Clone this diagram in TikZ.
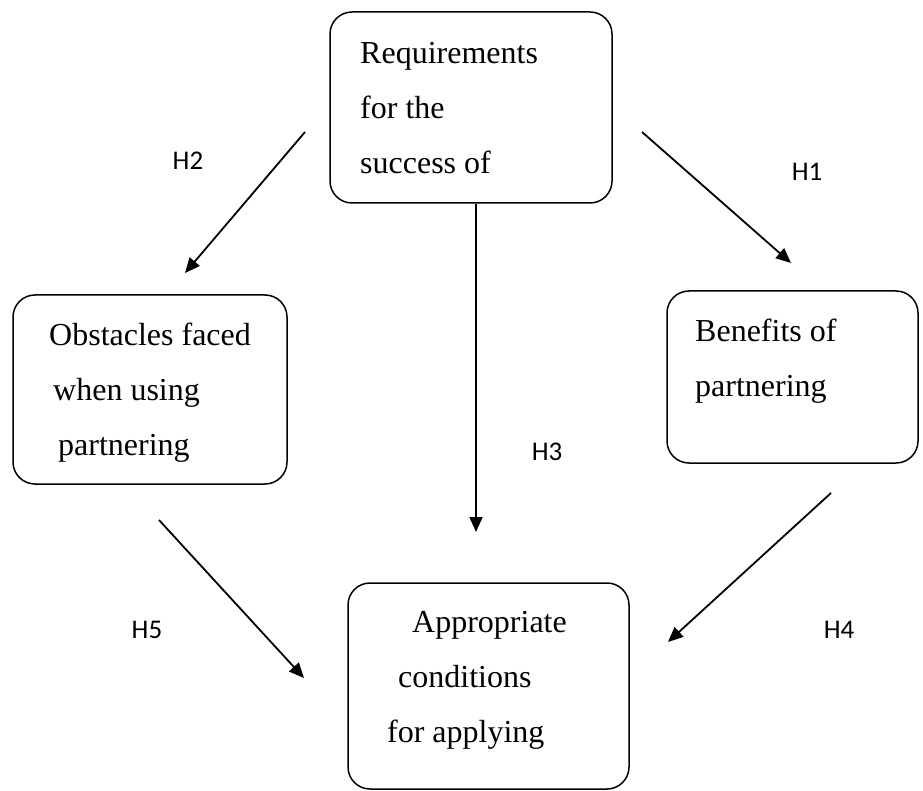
\documentclass[tikz,border=0pt]{standalone}
\usepackage{fontspec}
\setmainfont{Liberation Serif}
\newfontfamily\hfont{Carlito}
\usepackage{tikz}
\usetikzlibrary{arrows.meta,positioning,calc}

\begin{document}
\begin{tikzpicture}[x=1pt, y=-1pt,
  box/.style={draw, line width=1.5pt, rounded corners=22pt, inner sep=0pt},
  boxtext/.style={anchor=north west, inner sep=0pt, align=left, font=\fontsize{32}{55}\selectfont},
  hyp/.style={font=\hfont\fontsize{27}{30}\selectfont},
  link/.style={line width=1.8pt, -{Triangle[length=15pt,width=13pt]}}]
  \useasboundingbox (0,0) rectangle (923,791);
  % boxes
  \node[box, minimum width=282pt, minimum height=191pt] (req) at (471,107.5) {};
  \node[box, minimum width=274pt, minimum height=189pt] (obs) at (150,389.5) {};
  \node[box, minimum width=251pt, minimum height=172pt] (ben) at (792.5,377) {};
  \node[box, minimum width=281pt, minimum height=206pt] (app) at (488.5,686) {};
  % box texts
  \node[boxtext] (reqtxt) at (360,24.5) {\strut Requirements\\for the\\success of};
  \node[boxtext] (obstxt) at (49,306.5) {\strut Obstacles faced\\\hspace*{4pt}when using\\\hspace*{9pt}partnering};
  \node[boxtext] (bentxt) at (695,302.5) {\strut Benefits of\\partnering};
  \node[boxtext] (apptxt) at (387,593.5) {\strut\hspace*{25pt}Appropriate\\\hspace*{11pt}conditions\\for applying};
  % arrow ends
  \coordinate (h1s) at (642,132);  \coordinate (h1e) at (791,263);
  \coordinate (h2s) at (305,132);  \coordinate (h2e) at (185,273);
  \coordinate (h3e) at (476,532);
  \coordinate (h4s) at (831,493);  \coordinate (h4e) at (668,642);
  \coordinate (h5s) at (159,520);  \coordinate (h5e) at (304,678);
  % arrows
  \draw[link] (h1s) -- (h1e);
  \draw[link] (h2s) -- (h2e);
  \draw[link] (h3e |- req.south) -- (h3e);
  \draw[link] (h4s) -- (h4e);
  \draw[link] (h5s) -- (h5e);
  % labels
  \node[hyp] (h1) at (807,172) {H1};
  \node[hyp] (h2) at (188,161) {H2};
  \node[hyp] (h3) at (547,452) {H3};
  \node[hyp] (h4) at (839,630) {H4};
  \node[hyp] (h5) at (147,630) {H5};
\end{tikzpicture}
\end{document}
